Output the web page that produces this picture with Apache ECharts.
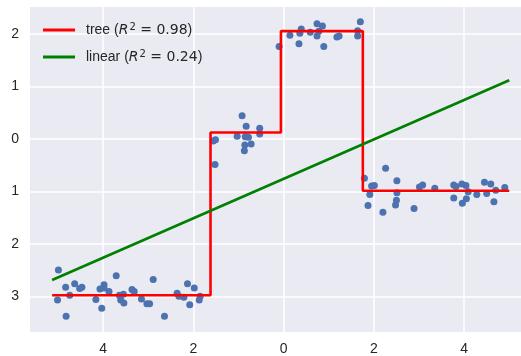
<!DOCTYPE html>
<html lang="en">

<head>
    <meta charset="UTF-8">
    <title>Tree vs linear</title>
    <script src="https://cdn.jsdelivr.net/npm/echarts@6.0.0/dist/echarts.min.js"></script>
    <style>
        body { margin: 0; background: #fff; }
    </style>
</head>

<body>
    <div id="main" style="width: 521px;height:356px;"></div>
    <script type="text/javascript">
        // scatter samples
        const pointsX = [
            -4.99, -5.01, -4.83, -4.74, -4.82, -4.63, -4.52, -4.47, -4.16, -4.07,
            -4.03, -3.98, -3.98, -3.87, -3.71, -3.64, -3.61, -3.55, -3.54, -3.36,
            -3.31, -3.15, -3.03, -2.97, -2.89, -2.64, -2.36, -2.32, -2.21, -2.13,
            -2.08, -1.98, -1.87, -1.85,
            -1.56, -1.51, -1.52, -1.03, -0.92, -0.83, -0.85, -0.78, -0.86, -0.72,
            -0.87, -0.53, -0.53,
            -0.10, 0.14, 0.34, 0.36, 0.39, 0.59, 0.74, 0.86, 0.74, 0.78,
            0.89, 1.18, 1.23, 1.64, 1.64, 1.70,
            1.79, 2.26, 1.87, 1.91, 1.95, 2.01, 2.20, 2.51, 2.51, 2.50,
            2.48, 2.89, 3.01, 3.08, 3.35, 3.77, 3.82, 3.77, 3.95, 4.04,
            4.09, 3.96, 4.05, 4.28, 4.45, 4.59, 4.50, 4.70, 4.66, 4.90
        ];
        const pointsY = [
            -2.50, -3.07, -2.83, -2.98, -3.38, -2.76, -2.85, -2.83, -3.06, -2.86,
            -3.23, -2.78, -2.84, -2.91, -2.61, -2.98, -3.07, -2.96, -3.13, -2.87,
            -2.91, -3.05, -3.14, -3.14, -2.68, -3.38, -2.94, -3.00, -3.02, -2.76,
            -3.16, -2.84, -3.07, -3.00,
            -0.04, -0.02, -0.49, 0.05, 0.44, 0.24, 0.04, 0.03, -0.12, -0.10,
            -0.23, 0.20, 0.09,
            1.76, 1.97, 1.81, 2.01, 2.09, 2.03, 2.19, 2.15, 1.96, 2.05,
            1.76, 1.94, 1.96, 1.96, 2.06, 2.23,
            -0.75, -0.56, -1.27, -1.06, -0.90, -0.89, -1.40, -0.80, -1.03, -1.17,
            -1.26, -1.33, -0.92, -0.88, -0.94, -0.88, -0.91, -1.13, -0.86, -0.89,
            -1.01, -1.23, -1.14, -1.06, -0.83, -0.86, -1.04, -0.98, -1.20, -0.93
        ];

        // tree regressor: split edges and leaf values
        const treeEdges = [-5.13, -1.62, -0.06, 1.755, 5.0];
        const treeLevels = [-2.98, 0.12, 2.05, -0.99];

        // linear fit end points
        const linearX = [-5.13, 5.0];
        const linearY = [-2.69, 1.116];

        const xTicks = [-4, -2, 0, 2, 4];
        const yTicks = [-3, -2, -1, 0, 1, 2];
        const seriesNames = ['tree', 'linear'];
        const r2Labels = ['0.98', '0.24'];

        let scatterData = pointsX.map((x, i) => [x, pointsY[i]]);
        let treeData = treeEdges.map((x, i) => [x, treeLevels[Math.min(i, treeLevels.length - 1)]]);
        let linearData = linearX.map((x, i) => [x, linearY[i]]);

        let myChart = echarts.init(document.getElementById('main'));

        const tickText = { color: '#262626', fontSize: 14, fontFamily: 'Liberation Sans, Arial, sans-serif' };

        let options = {
            backgroundColor: '#fff',
            animation: false,
            grid: { left: 30, top: 7, right: 0, bottom: 23, show: true, backgroundColor: '#EAEAF2', borderWidth: 0 },
            legend: {
                orient: 'vertical',
                left: 38,
                top: 17,
                itemWidth: 32,
                itemHeight: 3,
                itemGap: 12,
                icon: 'rect',
                data: seriesNames,
                formatter: name => {
                    let i = seriesNames.indexOf(name);
                    return name + ' ({i|R}{sup|2}{m| = ' + r2Labels[i] + '})';
                },
                textStyle: {
                    color: '#262626',
                    fontSize: 14,
                    fontFamily: 'Liberation Sans, Arial, sans-serif',
                    padding: [0, 0, 0, 6],
                    rich: {
                        i: { fontSize: 14, fontStyle: 'italic', fontFamily: 'DejaVu Sans', color: '#262626' },
                        sup: { fontSize: 10, verticalAlign: 'top', fontFamily: 'DejaVu Sans', color: '#262626', padding: [0, 0, 6, 1] },
                        m: { fontSize: 14, fontFamily: 'DejaVu Sans', color: '#262626' }
                    }
                }
            },
            xAxis: {
                type: 'value',
                min: -5.62,
                max: 5.26,
                axisLine: { show: false },
                axisTick: { show: false, customValues: xTicks },
                axisLabel: Object.assign({ customValues: xTicks, margin: 10, formatter: v => String(Math.abs(v)) }, tickText),
                splitLine: { show: true, lineStyle: { color: '#fff', width: 1.5 } }
            },
            yAxis: {
                type: 'value',
                min: -3.68,
                max: 2.51,
                axisLine: { show: false },
                axisTick: { show: false, customValues: yTicks },
                axisLabel: Object.assign({ customValues: yTicks, margin: 11, formatter: v => String(Math.abs(v)) }, tickText),
                splitLine: { show: true, lineStyle: { color: '#fff', width: 1.5 } }
            },
            series: [
                {
                    name: 'points',
                    type: 'scatter',
                    data: scatterData,
                    symbolSize: 7,
                    itemStyle: { color: '#4C72B0', opacity: 1 },
                    z: 2
                },
                {
                    name: 'tree',
                    type: 'line',
                    data: treeData,
                    step: 'end',
                    showSymbol: false,
                    color: '#FF0000',
                    lineStyle: { color: '#FF0000', width: 2.6 },
                    z: 3
                },
                {
                    name: 'linear',
                    type: 'line',
                    data: linearData,
                    showSymbol: false,
                    color: '#008000',
                    lineStyle: { color: '#008000', width: 2.6 },
                    z: 3
                }
            ]
        };

        myChart.setOption(options);
    </script>
</body>

</html>
